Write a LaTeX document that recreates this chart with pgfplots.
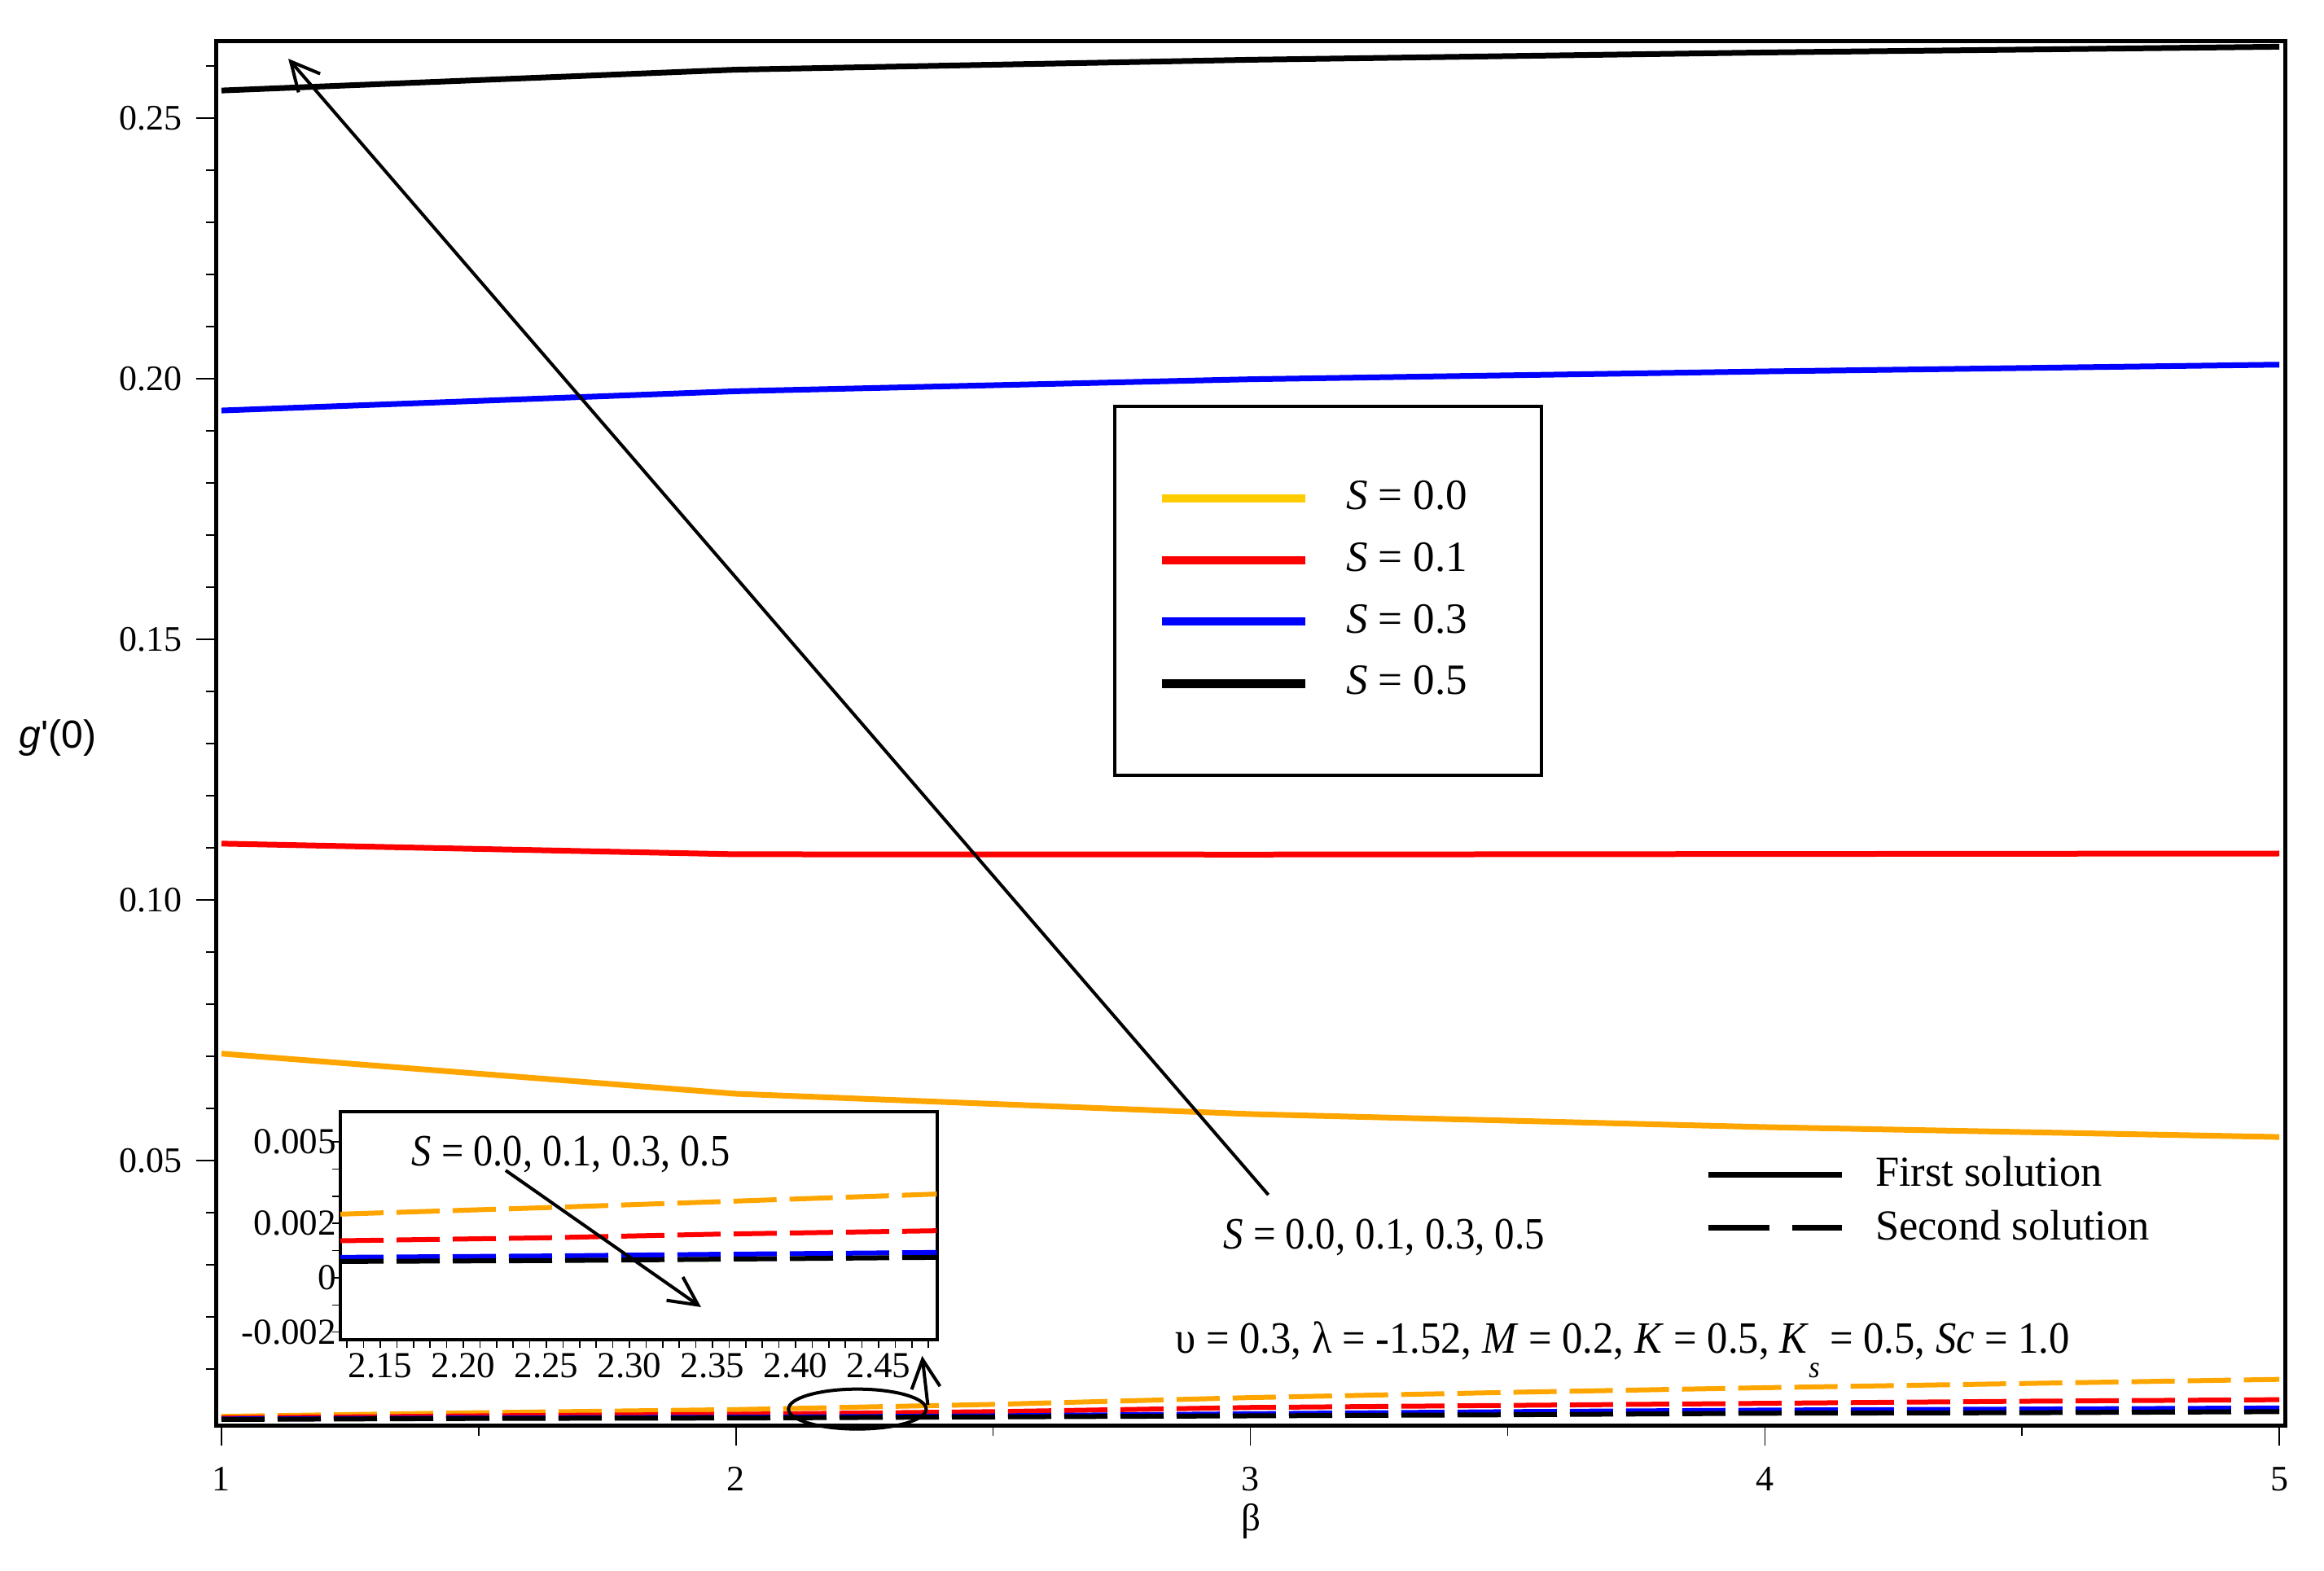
\documentclass[border=0pt]{standalone}
\usepackage{fontspec}
\setmainfont{Liberation Serif}
\newfontfamily\sansf{Liberation Sans}
\usepackage{graphicx}
\usepackage{pgfplots}
\usepackage{pgfplotstable}
\pgfplotsset{compat=1.18}
\usetikzlibrary{arrows.meta,calc}
\definecolor{morange}{RGB}{255,165,0}
\definecolor{mgold}{RGB}{255,204,0}
\definecolor{mred}{RGB}{255,0,0}
\definecolor{mblue}{RGB}{0,0,255}

\pgfplotstableread{
x o r b k
1 0.0705 0.1108 0.1939 0.2553
2 0.0628 0.10875 0.1976 0.2593
3 0.0589 0.1087 0.1999 0.2612
4 0.0564 0.1088 0.2014 0.2626
5 0.0545 0.1089 0.2027 0.2637
}\tabA

\pgfplotstableread{
x o r b k
1.0 0.0009 0.0006 0.0004 0.0003
1.5 0.0016 0.0010 0.0006 0.0005
2.0 0.0022 0.0013 0.00073 0.00058
2.5 0.0032 0.0018 0.0010 0.0008
3.0 0.0045 0.0026 0.0014 0.0010
3.5 0.0055 0.0030 0.0018 0.0012
4.0 0.0064 0.0034 0.0021 0.0015
4.5 0.0072 0.0038 0.0023 0.0016
5.0 0.0080 0.0041 0.0025 0.0018
}\tabB

\pgfplotstableread{
x o r b k
2.126 0.00234 0.00136 0.00075 0.00060
2.25 0.00258 0.00147 0.00080 0.00063
2.35 0.00279 0.00160 0.00086 0.00068
2.485 0.00308 0.00173 0.00093 0.00075
}\tabC

\tikzset{
  sol1/.style={line width=1.4pt},
  sol2/.style={line width=1.2pt, dash pattern=on 10.6pt off 3.2pt},
  annot/.style={line width=0.8pt, -{Straight Barb[length=7pt,width=7pt]}},
}

\begin{document}
\begin{tikzpicture}
\begin{axis}[name=main, at={(0,0)}, anchor=south west,
  scale only axis, width=508pt, height=339.8pt,
  xmin=0.9905, xmax=5.011, ymin=-0.0008, ymax=0.2647,
  clip=false,
  axis line style={line width=1pt},
  xtick={1,2,3,4,5}, minor xtick={1.5,2.5,3.5,4.5},
  ytick={0.05,0.10,0.15,0.20,0.25},
  minor ytick={0.01,0.02,0.03,0.04,0.06,0.07,0.08,0.09,0.11,0.12,0.13,0.14,0.16,0.17,0.18,0.19,0.21,0.22,0.23,0.24,0.26},
  xtick pos=left, ytick pos=left, tick align=outside,
  major tick length=5pt, minor tick length=2.5pt,
  tick style={black, line width=0.3pt},
  ticklabel style={font=\fontsize{8.8}{10.5}\selectfont},
  /pgf/number format/assume math mode=true,
  xticklabel style={yshift=-1.8pt},
  yticklabel style={/pgf/number format/.cd, fixed, fixed zerofill, precision=2},
  xlabel={β},
  xlabel style={font=\fontsize{9.4}{11}\selectfont, at={(axis description cs:0.5,0)}, anchor=center, yshift=-23.6pt},
  ylabel={\textit{g}\textquotesingle(0)},
  ylabel style={font=\sansf\fontsize{9.6}{11}\selectfont, at={(axis description cs:0,0.497)}, anchor=center, rotate=-90, xshift=-39pt},
  legend image code/.code={\draw[#1] (0pt,0pt) -- (35.2pt,0pt);},
  legend style={at={(axis description cs:0.4335,0.7375)}, anchor=north west,
    draw=black, line width=0.8pt, fill=white,
    inner xsep=10.4pt, inner ysep=16.3pt, row sep=2.6pt, column sep=7pt,
    font=\fontsize{10.6}{12.5}\selectfont, cells={anchor=west}},
]
\addplot[morange, sol1, forget plot] table[x=x,y=o]{\tabA};
\addplot[mred, sol1, forget plot] table[x=x,y=r]{\tabA};
\addplot[mblue, sol1, forget plot] table[x=x,y=b]{\tabA};
\addplot[black, sol1, forget plot] table[x=x,y=k]{\tabA};
\addplot[morange, sol2, forget plot] table[x=x,y=o]{\tabB};
\addplot[mred, sol2, forget plot] table[x=x,y=r]{\tabB};
\addplot[mblue, sol2, forget plot] table[x=x,y=b]{\tabB};
\addplot[black, sol2, forget plot] table[x=x,y=k]{\tabB};

\addlegendimage{mgold, line width=2pt}
\addlegendentry{\makebox[35.5pt][l]{\textit{S} = 0.0}}
\addlegendimage{mred, line width=2pt}
\addlegendentry{\makebox[35.5pt][l]{\textit{S} = 0.1}}
\addlegendimage{mblue, line width=2pt}
\addlegendentry{\makebox[35.5pt][l]{\textit{S} = 0.3}}
\addlegendimage{black, line width=2.2pt}
\addlegendentry{\makebox[35.5pt][l]{\textit{S} = 0.5}}

\draw[line width=0.8pt] (axis cs:2.236,0.0023) ellipse [x radius=16.9pt, y radius=4.9pt];
\draw[annot] (axis cs:2.373,0.0031) -- (axis cs:2.362,0.0125);
\draw[annot] (axis cs:3.035,0.0434) -- (axis cs:1.130,0.2614);
\node[anchor=base west, inner sep=0pt, font=\fontsize{11}{13}\selectfont] at (axis cs:2.946,0.033) {\scalebox{0.89}[1]{\textit{S} = 0.0, 0.1, 0.3, 0.5}};
\node[anchor=base west, inner sep=0pt, font=\fontsize{11}{13}\selectfont] at (axis cs:2.853,0.0130) {\scalebox{0.92}[1]{υ = 0.3, λ = -1.52, \textit{M} = 0.2, \textit{K} = 0.5, \textit{K}\raisebox{-0.55em}{\fontsize{7.5}{9}\selectfont\textit{s}} = 0.5, \textit{Sc} = 1.0}};
\end{axis}

\begin{axis}[at={(main.south west)}, anchor=south west,
  scale only axis, width=508pt, height=339.8pt, hide axis,
  xmin=0, xmax=1, ymin=0, ymax=1,
  legend style={at={(axis description cs:0.7193,0.2005)}, anchor=north west,
    draw=none, fill=none, inner xsep=0pt, inner ysep=0pt, row sep=0.3pt, column sep=5.6pt,
    font=\fontsize{10.5}{12.5}\selectfont, cells={anchor=west}},
]
\addlegendimage{legend image code/.code={\draw[black,line width=1.4pt] (0pt,0pt) -- (32.8pt,0pt);}}
\addlegendentry{First solution}
\addlegendimage{legend image code/.code={\draw[black,line width=1.4pt] (0pt,0pt) -- (15pt,0pt) (20.6pt,0pt) -- (32.8pt,0pt);}}
\addlegendentry{Second solution}
\end{axis}

\begin{axis}[at={($(main.south west)+(30.4pt,21pt)$)}, anchor=south west,
  scale only axis, width=146.6pt, height=56pt,
  xmin=2.126, xmax=2.4853, ymin=-0.00228, ymax=0.00611,
  axis background/.style={fill=white},
  axis line style={line width=0.9pt},
  scaled ticks=false,
  xtick={2.15,2.20,2.25,2.30,2.35,2.40,2.45},
  xticklabels={2.15,2.20,2.25,2.30,2.35,2.40,2.45},
  minor xtick={2.13,2.14,2.16,2.17,2.18,2.19,2.21,2.22,2.23,2.24,2.26,2.27,2.28,2.29,2.31,2.32,2.33,2.34,2.36,2.37,2.38,2.39,2.41,2.42,2.43,2.44,2.46,2.47,2.48},
  ytick={-0.002,0,0.002,0.005}, yticklabels={-0.002,0,0.002,0.005},
  minor ytick={-0.001,0.001,0.003,0.004},
  xtick pos=left, ytick pos=left, tick align=outside,
  major tick length=2pt, minor tick length=2pt,
  tick style={black, line width=0.3pt},
  ticklabel style={font=\fontsize{9}{11}\selectfont},
  xticklabel style={yshift=2.2pt}, yticklabel style={xshift=4.5pt},
]
\addplot[morange, sol2] table[x=x,y=o]{\tabC};
\addplot[mred, sol2] table[x=x,y=r]{\tabC};
\addplot[mblue, sol2] table[x=x,y=b]{\tabC};
\addplot[black, sol2] table[x=x,y=k]{\tabC};
\node[anchor=base west, inner sep=0pt, font=\fontsize{11}{13}\selectfont] at (axis cs:2.1686,0.00413) {\scalebox{0.88}[1]{\textit{S} = 0.0, 0.1, 0.3, 0.5}};
\draw[annot] (axis cs:2.2255,0.00395) -- (axis cs:2.3431,-0.00108);
\end{axis}

\path[use as bounding box] ($(main.south west)+(-53.2pt,-35.8pt)$) rectangle ++(570.8pt,385.8pt);
\end{tikzpicture}
\end{document}
